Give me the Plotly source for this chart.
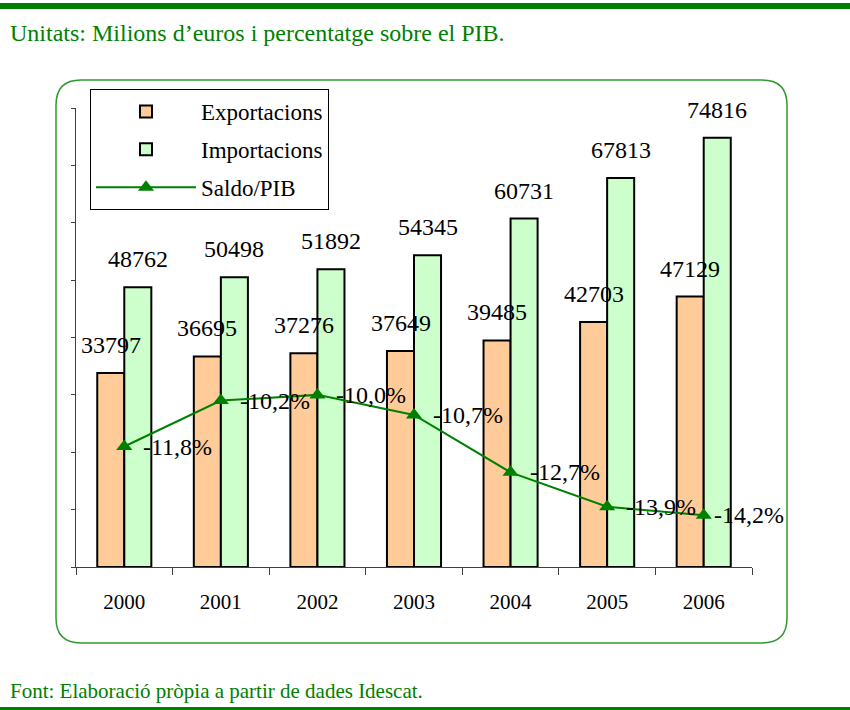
import plotly.graph_objects as go

years = ["2000", "2001", "2002", "2003", "2004", "2005", "2006"]
exportacions = [33797, 36695, 37276, 37649, 39485, 42703, 47129]
importacions = [48762, 50498, 51892, 54345, 60731, 67813, 74816]
saldo_pib = [-11.8, -10.2, -10.0, -10.7, -12.7, -13.9, -14.2]
saldo_labels = ["-11,8%", "-10,2%", "-10,0%", "-10,7%", "-12,7%", "-13,9%", "-14,2%"]

W, H = 850, 710
ML, MR, MT, MB = 76, 98, 108, 143
PW, PH = W - ML - MR, H - MT - MB


def X(px):
    return (px - ML) / PW


def Y(py):
    return (H - MB - py) / PH


SERIF = "Liberation Serif, Times New Roman, serif"
GREEN = "#008000"

fig = go.Figure()
fig.add_trace(go.Bar(x=years, y=exportacions, name="Exportacions",
                     marker=dict(color="#FFCC99", line=dict(color="black", width=2)),
                     legendgroup="a"))
fig.add_trace(go.Bar(x=years, y=importacions, name="Importacions",
                     marker=dict(color="#CCFFCC", line=dict(color="black", width=2)),
                     legendgroup="b"))
fig.add_trace(go.Scatter(x=years, y=saldo_pib, name="Saldo/PIB", yaxis="y2",
                         mode="lines+markers",
                         line=dict(color=GREEN, width=2),
                         marker=dict(symbol="triangle-up", size=14, color=GREEN),
                         legendgroup="c"))

annotations = []
# category axis: annotation x given as the category index
for i, v in enumerate(exportacions):
    annotations.append(dict(x=i, y=v, xref="x", yref="y", text=str(v), showarrow=False,
                            xshift=-13.5, yshift=28, yanchor="middle",
                            font=dict(family=SERIF, size=24, color="black")))
for i, v in enumerate(importacions):
    annotations.append(dict(x=i, y=v, xref="x", yref="y", text=str(v), showarrow=False,
                            xshift=13.5, yshift=28, yanchor="middle",
                            font=dict(family=SERIF, size=24, color="black")))
label_shifts = [17, 17, 17, 17, 17, 17, 8]
for i, (v, t, s) in enumerate(zip(saldo_pib, saldo_labels, label_shifts)):
    annotations.append(dict(x=i, y=v, xref="x", yref="y2", text=t, showarrow=False,
                            xanchor="left", xshift=s, yanchor="middle",
                            font=dict(family=SERIF, size=24, color="black")))

annotations.append(dict(x=X(8), y=Y(33), xref="paper", yref="paper", xanchor="left",
                        yanchor="middle", showarrow=False,
                        text="Unitats: Milions d’euros i percentatge sobre el PIB.",
                        font=dict(family=SERIF, size=24, color=GREEN)))
annotations.append(dict(x=X(8), y=Y(691), xref="paper", yref="paper", xanchor="left",
                        yanchor="middle", showarrow=False,
                        text="Font: Elaboració pròpia a partir de dades Idescat.",
                        font=dict(family=SERIF, size=21, color=GREEN)))

r = 25
x0, x1, y0, y1 = 56, 787, 80, 643
path = (f"M {X(x0 + r)},{Y(y0)} L {X(x1 - r)},{Y(y0)} Q {X(x1)},{Y(y0)} {X(x1)},{Y(y0 + r)} "
        f"L {X(x1)},{Y(y1 - r)} Q {X(x1)},{Y(y1)} {X(x1 - r)},{Y(y1)} "
        f"L {X(x0 + r)},{Y(y1)} Q {X(x0)},{Y(y1)} {X(x0)},{Y(y1 - r)} "
        f"L {X(x0)},{Y(y0 + r)} Q {X(x0)},{Y(y0)} {X(x0 + r)},{Y(y0)} Z")

shapes = [
    dict(type="path", path=path, xref="paper", yref="paper",
         line=dict(color="#2E9A2E", width=1.5), layer="below"),
    dict(type="rect", xref="paper", yref="paper", x0=X(0), x1=X(W), y0=Y(9), y1=Y(3),
         fillcolor=GREEN, line=dict(width=0), layer="below"),
    dict(type="rect", xref="paper", yref="paper", x0=X(0), x1=X(W), y0=Y(710), y1=Y(707),
         fillcolor=GREEN, line=dict(width=0), layer="below"),
]

fig.update_layout(
    width=W, height=H,
    margin=dict(l=ML, r=MR, t=MT, b=MB, autoexpand=False),
    paper_bgcolor="white", plot_bgcolor="white",
    barmode="group", bargap=0.44, bargroupgap=0,
    font=dict(family=SERIF, size=20, color="black"),
    xaxis=dict(type="category", range=[-0.5, len(years) - 0.5],
               showline=True, linecolor="#404040", linewidth=1,
               ticks="outside", ticklen=7, tickcolor="#404040", tickson="boundaries",
               showgrid=False, ticklabelstandoff=16,
               tickfont=dict(family=SERIF, size=21, color="black")),
    yaxis=dict(range=[0, 80000], dtick=10000, showline=True, linecolor="#404040",
               linewidth=1, ticks="outside", ticklen=4, tickcolor="#404040",
               showticklabels=False, showgrid=False, zeroline=False),
    yaxis2=dict(range=[-16, 0], overlaying="y", side="right", visible=False),
    legend=dict(x=X(90), y=Y(89), xanchor="left", yanchor="top",
                bordercolor="black", borderwidth=1, bgcolor="white",
                font=dict(family=SERIF, size=23, color="black"),
                traceorder="grouped", tracegroupgap=5, itemwidth=100,
                entrywidth=214, entrywidthmode="pixels"),
    annotations=annotations,
    shapes=shapes,
    showlegend=True,
)

fig.write_html("out.html", config={"displayModeBar": False},
               post_script="document.body.style.margin='0';document.body.style.padding='0';")
